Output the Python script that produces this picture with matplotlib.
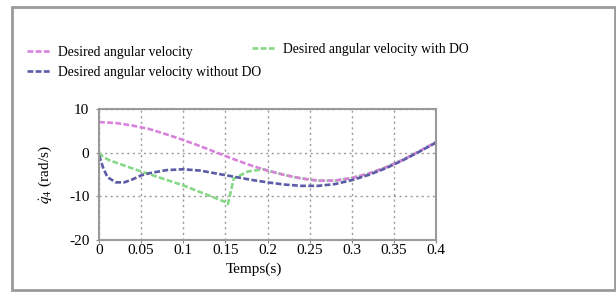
import matplotlib
matplotlib.use("Agg")
import matplotlib.pyplot as plt
from matplotlib.patches import Rectangle

plt.rcParams['font.family'] = ['Liberation Serif', 'DejaVu Serif']
plt.rcParams['mathtext.fontset'] = 'stix'

# ---- data ----
t_des = [0, 0.02, 0.04, 0.06, 0.08, 0.10, 0.12, 0.14, 0.16, 0.18, 0.20, 0.22,
         0.24, 0.26, 0.28, 0.30, 0.32, 0.34, 0.36, 0.38, 0.40]
v_des = [7.0, 6.8, 6.2, 5.4, 4.2, 2.9, 1.5, 0.0, -1.5, -2.9, -4.1, -5.1,
         -5.9, -6.4, -6.4, -5.8, -4.8, -3.4, -1.7, 0.3, 2.4]

t_with = [0, 0.005, 0.013, 0.05, 0.10, 0.15, 0.153, 0.16, 0.177, 0.195, 0.20,
          0.22, 0.24, 0.26, 0.28, 0.30, 0.32, 0.34, 0.36, 0.38, 0.40]
v_with = [0.0, -1.0, -1.8, -4.3, -7.5, -11.3, -11.8, -5.9, -4.3, -3.8, -4.1,
          -5.1, -5.9, -6.4, -6.4, -5.8, -4.8, -3.4, -1.7, 0.3, 2.4]

t_without = [0, 0.005, 0.01, 0.02, 0.03, 0.04, 0.05, 0.06, 0.08, 0.10, 0.12,
             0.14, 0.16, 0.18, 0.20, 0.22, 0.24, 0.26, 0.28, 0.30, 0.32, 0.34,
             0.36, 0.38, 0.40]
v_without = [-0.6, -3.5, -5.6, -6.8, -6.8, -6.1, -5.2, -4.7, -4.0, -3.8, -4.1,
             -4.8, -5.5, -6.2, -6.8, -7.3, -7.6, -7.6, -7.2, -6.3, -5.1, -3.6,
             -1.8, 0.2, 2.3]

labels = ["Desired angular velocity", "Desired angular velocity with DO",
          "Desired angular velocity without DO"]
xticks = [0, 0.05, 0.1, 0.15, 0.2, 0.25, 0.3, 0.35, 0.4]
xticklabels = ["0", "0.05", "0.1", "0.15", "0.2", "0.25", "0.3", "0.35", "0.4"]
yticks = [-20, -10, 0, 10]
yticklabels = ["-20", "-10", "0", "10"]

c_des = "#d982dc"
c_with = "#86d886"
c_without = "#5b5ba6"

W, H = 616, 293
fig = plt.figure(figsize=(W / 100, H / 100), dpi=100)
fig.patch.set_facecolor("white")

# outer frame
fig.patches.append(Rectangle((12 / W, 1 - 290 / H), 603 / W, 283 / H,
                             transform=fig.transFigure, fill=False,
                             edgecolor="#9a9a9a", linewidth=2.0))

ax = fig.add_axes([99 / W, 1 - 240 / H, 337 / W, 131 / H])
ls = (0, (2.2, 0.9))
l_with, = ax.plot(t_with, v_with, color=c_with, lw=1.9, linestyle=ls)
l_des, = ax.plot(t_des, v_des, color=c_des, lw=1.9, linestyle=ls)
l_without, = ax.plot(t_without, v_without, color=c_without, lw=1.9, linestyle=ls)

ax.set_xlim(0, 0.4)
ax.set_ylim(-20, 10)
ax.set_xticks(xticks)
ax.set_xticklabels(xticklabels)
ax.set_yticks(yticks)
ax.set_yticklabels(yticklabels)
ax.tick_params(axis="x", length=2, width=0.8, color="#888888", labelsize=11, pad=1)
ax.tick_params(axis="y", length=2, width=0.8, color="#888888", labelsize=11, pad=5)
ax.grid(True, linestyle=(0, (1.5, 2.5)), color="#999999", linewidth=1.0)
for s in ax.spines.values():
    s.set_color("#9a9a9a")
    s.set_linewidth(1.5)

ax.set_xlabel("Temps(s)", fontsize=11)
ax.xaxis.set_label_coords(0.461, -0.175)
ax.set_ylabel(r"$\dot{q}_4$ (rad/s)", fontsize=11)
ax.yaxis.set_label_coords(-0.135, 0.5)

common = dict(loc="center left", frameon=False, fontsize=9.8, handlelength=1.7,
              handletextpad=0.55, borderaxespad=0, borderpad=0)
fig.legend([l_des], [labels[0]], bbox_to_anchor=(27 / W, 1 - 52.5 / H), **common)
fig.legend([l_with], [labels[1]], bbox_to_anchor=(252 / W, 1 - 49 / H), **common)
fig.legend([l_without], [labels[2]], bbox_to_anchor=(27 / W, 1 - 72.5 / H), **common)

fig.savefig("out.png", dpi=100, facecolor="white")
